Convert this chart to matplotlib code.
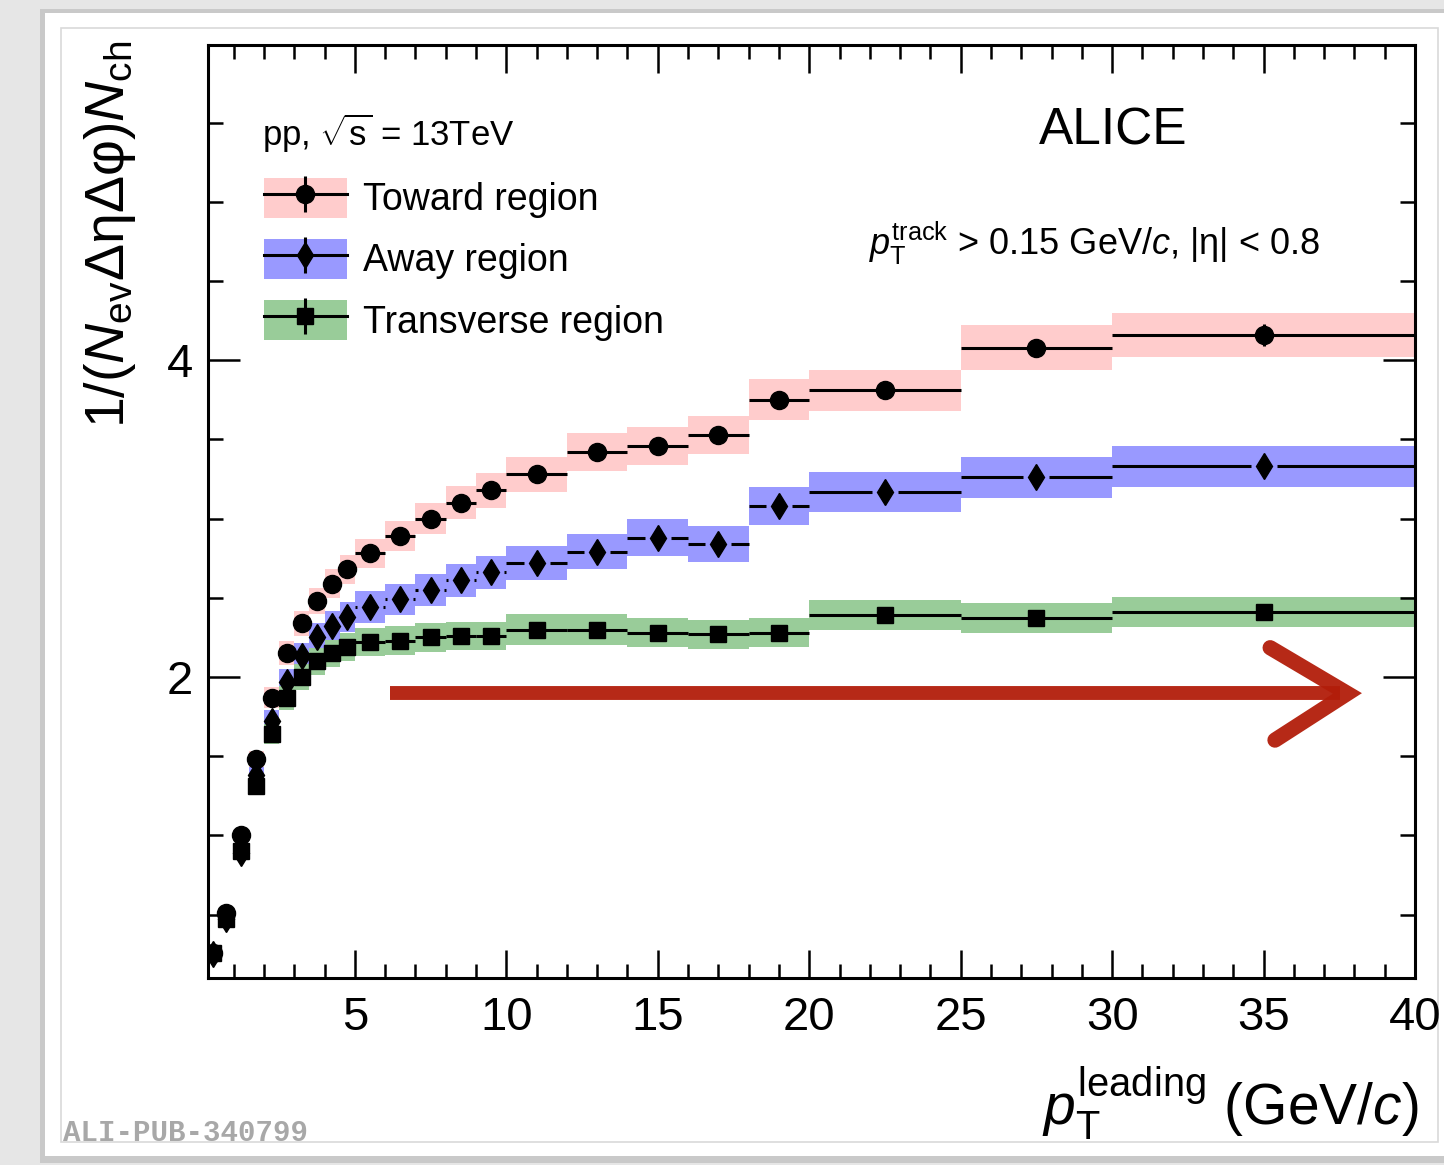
import numpy as np
import matplotlib
matplotlib.use('Agg')
import matplotlib.pyplot as plt
from matplotlib.patches import Rectangle, Patch
from matplotlib.lines import Line2D
from matplotlib.ticker import MultipleLocator
from matplotlib.legend_handler import HandlerTuple

plt.rcParams['font.family'] = ['Liberation Sans', 'DejaVu Sans']
plt.rcParams['mathtext.fontset'] = 'custom'
plt.rcParams['mathtext.rm'] = 'Liberation Sans'
plt.rcParams['mathtext.it'] = 'Liberation Sans:italic'
plt.rcParams['mathtext.bf'] = 'Liberation Sans:bold'
plt.rcParams['mathtext.sf'] = 'Liberation Sans'

# ---------------- data ----------------
bin_edges = [0.15, 0.5, 1.0, 1.5, 2.0, 2.5, 3.0, 3.5, 4.0, 4.5, 5.0,
             6, 7, 8, 9, 10, 12, 14, 16, 18, 20, 25, 30, 40]

toward = [0.26, 0.51, 1.00, 1.48, 1.87, 2.15, 2.34, 2.48, 2.59, 2.68,
          2.78, 2.89, 3.00, 3.10, 3.18, 3.28, 3.42, 3.46, 3.53, 3.75,
          3.81, 4.08, 4.16]
toward_sys = [0.01, 0.02, 0.035, 0.05, 0.065, 0.075, 0.08, 0.085, 0.09, 0.09,
              0.09, 0.095, 0.10, 0.105, 0.11, 0.11, 0.12, 0.12, 0.12, 0.13,
              0.13, 0.14, 0.14]
toward_stat = [0.003, 0.003, 0.003, 0.003, 0.003, 0.003, 0.003, 0.003, 0.003, 0.004,
               0.004, 0.005, 0.005, 0.006, 0.007, 0.008, 0.010, 0.012, 0.015, 0.018,
               0.015, 0.03, 0.07]

away = [0.25, 0.47, 0.89, 1.38, 1.72, 1.97, 2.13, 2.25, 2.32, 2.38,
        2.44, 2.49, 2.55, 2.61, 2.66, 2.72, 2.79, 2.88, 2.84, 3.08,
        3.17, 3.26, 3.33]
away_sys = [0.01, 0.02, 0.035, 0.055, 0.07, 0.08, 0.085, 0.09, 0.095, 0.095,
            0.10, 0.10, 0.10, 0.105, 0.105, 0.11, 0.11, 0.115, 0.115, 0.12,
            0.125, 0.13, 0.13]
away_stat = [0.003, 0.003, 0.003, 0.003, 0.003, 0.003, 0.003, 0.003, 0.003, 0.004,
             0.004, 0.005, 0.005, 0.006, 0.007, 0.008, 0.010, 0.012, 0.015, 0.018,
             0.015, 0.03, 0.06]

transverse = [0.26, 0.47, 0.90, 1.31, 1.64, 1.87, 2.00, 2.10, 2.15, 2.19,
              2.22, 2.23, 2.25, 2.26, 2.26, 2.30, 2.30, 2.28, 2.27, 2.28,
              2.39, 2.37, 2.41]
transverse_sys = [0.01, 0.02, 0.035, 0.05, 0.065, 0.075, 0.08, 0.085, 0.085, 0.09,
                  0.09, 0.09, 0.09, 0.09, 0.09, 0.095, 0.095, 0.09, 0.09, 0.09,
                  0.095, 0.095, 0.095]
transverse_stat = [0.003, 0.003, 0.003, 0.003, 0.003, 0.003, 0.003, 0.003, 0.003, 0.003,
                   0.003, 0.004, 0.004, 0.005, 0.005, 0.006, 0.007, 0.008, 0.010, 0.012,
                   0.010, 0.02, 0.04]

series_labels = ['Toward region', 'Away region', 'Transverse region']
x_ticks = [5, 10, 15, 20, 25, 30, 35, 40]
y_ticks = [2, 4]

# ---------------- derived ----------------
edges = np.array(bin_edges)
lo, hi = edges[:-1], edges[1:]
xc = 0.5 * (lo + hi)
xerr = [xc - lo, hi - xc]
width = hi - lo

col_toward = '#ffcccc'
col_away = '#9999ff'
col_trans = '#99cc99'

W, H = 1444, 1165
fig = plt.figure(figsize=(W / 100, H / 100), dpi=100, facecolor='#e6e6e6')


def fx(px):
    return px / W


def fy(py):
    return 1 - py / H


# slide card background
fig.patches.append(Rectangle((fx(40), fy(1163)), fx(1444) - fx(40), fy(9) - fy(1163),
                             transform=fig.transFigure, facecolor='#c9c9c9',
                             edgecolor='none', zorder=-12))
fig.patches.append(Rectangle((fx(45), fy(1156)), fx(1444) - fx(45), fy(13) - fy(1156),
                             transform=fig.transFigure, facecolor='white',
                             edgecolor='none', zorder=-11))
fig.patches.append(Rectangle((fx(61), fy(1142)), fx(1438) - fx(61), fy(28) - fy(1142),
                             transform=fig.transFigure, facecolor='white',
                             edgecolor='#d9d9d9', lw=1.2, zorder=-10))

ax = fig.add_axes([fx(208), fy(978), (1415 - 208) / W, (978 - 45) / H])
ax.set_facecolor('white')
ax.set_xlim(0.15, 40)
ax.set_ylim(0.1, 5.99)

lw = 2.2
# systematic bands
for vals, sys_, col in [(toward, toward_sys, col_toward),
                        (away, away_sys, col_away),
                        (transverse, transverse_sys, col_trans)]:
    v = np.array(vals)
    s = np.array(sys_)
    ax.bar(xc, 2 * s, bottom=v - s, width=width, color=col, edgecolor='none',
           align='center', zorder=1)

# away: horizontal bar with gap around diamond
gap = 0.43
aw = np.array(away)
ax.hlines(aw, lo, np.maximum(lo, xc - gap), color='black', lw=lw, zorder=3)
ax.hlines(aw, np.minimum(hi, xc + gap), hi, color='black', lw=lw, zorder=3)
ax.errorbar(xc, away, yerr=away_stat, fmt='d', color='black', ms=13,
            elinewidth=lw, capsize=0, zorder=4)
ax.errorbar(xc, transverse, xerr=xerr, yerr=transverse_stat, fmt='s',
            color='black', ms=12, elinewidth=lw, capsize=0, zorder=5)
ax.errorbar(xc, toward, xerr=xerr, yerr=toward_stat, fmt='o',
            color='black', ms=13, elinewidth=lw, capsize=0, zorder=6)

# axes styling
for sp in ax.spines.values():
    sp.set_linewidth(2.2)
ax.xaxis.set_major_locator(MultipleLocator(5))
ax.xaxis.set_minor_locator(MultipleLocator(1))
ax.yaxis.set_major_locator(MultipleLocator(2))
ax.yaxis.set_minor_locator(MultipleLocator(0.5))
ax.set_xticks(x_ticks)
ax.set_xticklabels([str(t) for t in x_ticks])
ax.set_yticks(y_ticks)
ax.set_yticklabels([str(t) for t in y_ticks])
ax.tick_params(axis='both', which='both', direction='in', top=True, right=True,
               width=1.8, labelsize=34)
ax.tick_params(axis='x', which='major', length=20, pad=13)
ax.tick_params(axis='x', which='minor', length=10)
ax.tick_params(axis='y', which='major', length=23, pad=11)
ax.tick_params(axis='y', which='minor', length=11)

# axis titles
ax.text(-0.081, 1.005, r'$1/(N_{\rm ev}\mathrm{\Delta\eta\Delta\varphi})N_{\rm ch}$',
        transform=ax.transAxes, rotation=90, ha='center', va='top', fontsize=40)
ax.text(1.0025, -0.158, r'$p_{\rm T}^{\rm leading}$ (GeV/$c$)',
        transform=ax.transAxes, ha='right', va='baseline', fontsize=41)

# annotations
ax.text(0.750, 0.893, 'ALICE', transform=ax.transAxes, ha='center',
        va='baseline', fontsize=37)
ax.text(0.0447, 0.892, r'pp, $\sqrt{\mathrm{s}}$ = 13TeV', transform=ax.transAxes,
        ha='left', va='baseline', fontsize=25)
ax.text(0.548, 0.775, r'$p_{\rm T}^{\rm track}$ > 0.15 GeV/$c$, |$\mathrm{\eta}$| < 0.8',
        transform=ax.transAxes, ha='left', va='baseline', fontsize=26)

# legend
handles = []
for col, mk, ms in [(col_toward, 'o', 13), (col_away, 'd', 13), (col_trans, 's', 12)]:
    p = Patch(facecolor=col, edgecolor='none')
    vbar = Line2D([], [], linestyle='none', marker='|', ms=26, mew=lw, color='black')
    line = Line2D([], [], linestyle='-', lw=lw, marker=mk, ms=ms, color='black')
    handles.append((p, vbar, line))
leg = ax.legend(handles, series_labels, loc='upper left',
                bbox_to_anchor=(0.0464, 0.8575), frameon=False, fontsize=27,
                handlelength=2.2, handleheight=1.25, handletextpad=0.43,
                labelspacing=0.55, borderpad=0, borderaxespad=0, numpoints=1,
                handler_map={tuple: HandlerTuple(ndivide=1, pad=0)})

# hand-drawn red arrow
red = '#b21d0a'
ax.plot([0.151, 0.938], [0.305, 0.305], transform=ax.transAxes, color=red,
        lw=10, solid_capstyle='butt', clip_on=False, zorder=2, alpha=0.95)
ax.plot([0.880, 0.944, 0.884], [0.354, 0.305, 0.255], transform=ax.transAxes,
        color=red, lw=11, solid_capstyle='round', solid_joinstyle='miter',
        clip_on=False, zorder=2, alpha=0.95)

fig.text(fx(63), fy(1141), 'ALI-PUB-340799', family='Liberation Mono',
         weight='bold', color='#a8a8a8', fontsize=21, ha='left', va='baseline')

fig.savefig('out.png', dpi=100, facecolor=fig.get_facecolor())
